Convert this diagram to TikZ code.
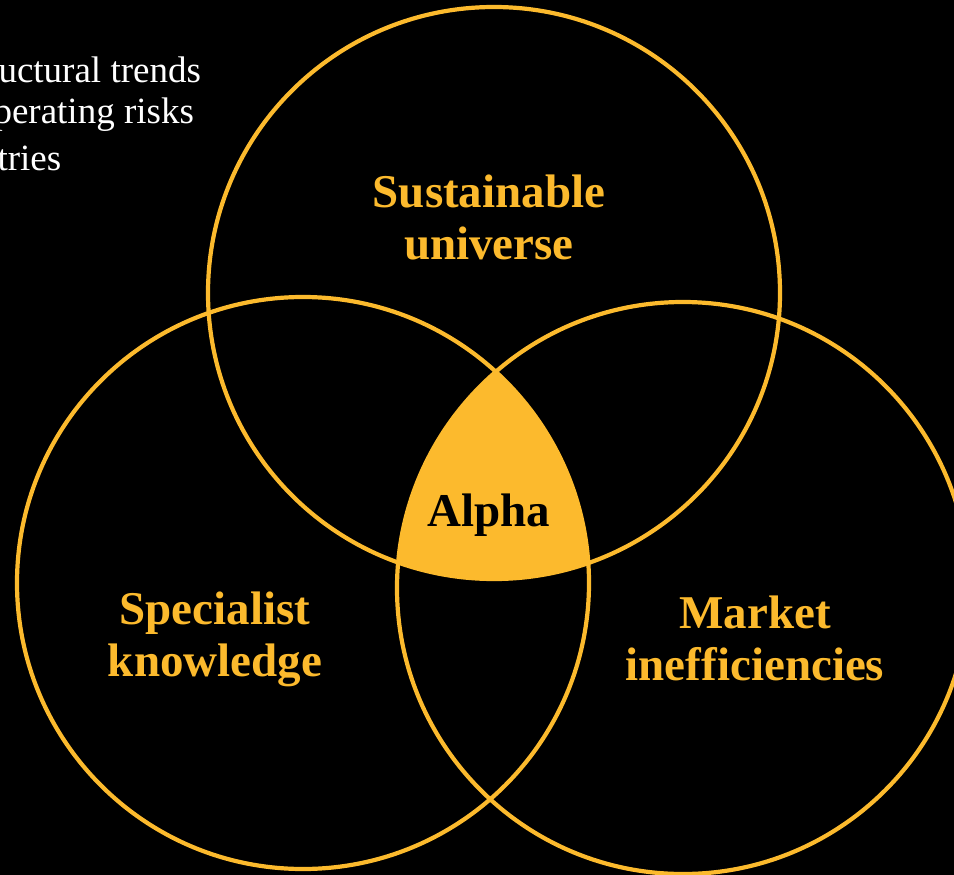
\documentclass[tikz,border=0pt]{standalone}
\usepackage{fontspec}
\setmainfont{Liberation Serif}
\definecolor{gold}{RGB}{252,186,45}

\begin{document}
\begin{tikzpicture}[x=1pt, y=-1pt,
    ring/.style={circle, draw=gold, line width=4.2pt, minimum size=572pt, inner sep=0pt},
    title/.style={text=gold, font=\fontsize{47}{52}\selectfont\bfseries, align=center},
    note/.style={anchor=base west, text=white, font=\fontsize{37}{43}\selectfont}]
    \fill[black] (0,0) rectangle (954,875);
    \useasboundingbox (0,0) rectangle (954,875);
    % notes on the left, running off the page
    \node[note] (n1) at (-5,83) {uctural trends};
    \node[note] (n2) at (-10,124) {perating risks};
    \node[note] (n3) at (-6,170) {tries};
    % circle centres
    \coordinate (ct) at (494,293);
    \coordinate (cl) at (303,583);
    \coordinate (cr) at (683,588);
    % common part of all three
    \begin{scope}
        \clip (ct) circle (286pt);
        \clip (cl) circle (286pt);
        \fill[gold] (cr) circle (286pt);
    \end{scope}
    \node[ring] (top) at (ct) {};
    \node[ring] (left) at (cl) {};
    \node[ring] (right) at (cr) {};
    \node[title] (sus) at (489,217) {Sustainable\\universe};
    \node[title] (spec) at (215,639) {Specialist\\knowledge};
    \node[title] (mkt) at (755,638) {Market\\inefficiencies};
    \node[title, text=black] (alpha) at (489,515) {Alpha};
\end{tikzpicture}
\end{document}
